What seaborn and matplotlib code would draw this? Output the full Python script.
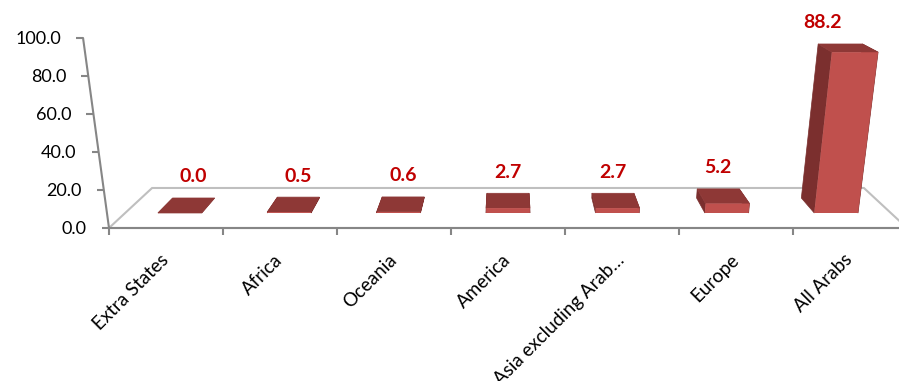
import matplotlib
matplotlib.use('Agg')
import matplotlib.pyplot as plt
import matplotlib.transforms as mtransforms
from matplotlib.patches import Polygon
import numpy as np
import pandas as pd
import seaborn as sns

regions = ['Extra States', 'Africa', 'Oceania', 'America',
           'Asia excluding Arab\u2026', 'Europe', 'All Arabs']
shares = [0.0, 0.5, 0.6, 2.7, 2.7, 5.2, 88.2]
y_ticks = [0, 20, 40, 60, 80, 100]

front_color = '#C0504D'
side_color = '#7B2F2E'
top_color = '#8E3836'
label_color = '#C00000'
axis_gray = '#868686'

sns.set_theme(style='white')
plt.rcParams['font.family'] = ['Lato', 'DejaVu Sans']

df = pd.DataFrame({'Region': regions, 'Share': shares})

fig = plt.figure(figsize=(8.99, 3.81), dpi=100)
ax = fig.add_axes([109 / 899, 153 / 381, 798 / 899, 190 / 381])

sns.barplot(data=df, x='Region', y='Share', color=front_color, saturation=1,
            width=0.4, linewidth=0, ax=ax, zorder=3)
ax.set_xlim(-0.5, 6.5)
ax.set_ylim(0, 100)

# fake 3d perspective like the excel chart
# depth: a point at depth z (0 = floor front, 1 = floor back) is pulled towards a vanishing point
# keystone: verticals spread out a little with height
k = 0.108
van_x, van_y = 3.0, 195
z_front, z_back = 0.375, 0.75
spread = 0.00065


def depth(z):
    s = 1 - k * z
    return mtransforms.Affine2D().translate(-van_x, -van_y).scale(s).translate(van_x, van_y)


class Keystone(mtransforms.Transform):
    input_dims = 2
    output_dims = 2

    def transform_non_affine(self, values):
        values = np.asarray(values, dtype=float)
        x = van_x + (values[:, 0] - van_x) * (1 + spread * values[:, 1])
        return np.column_stack([x, values[:, 1]])


keystone = Keystone()

# floor
x0, x1 = ax.get_xlim()
floor_front = np.array([[x0, 0], [x1, 0]])
floor_back = depth(1).transform(floor_front)
floor = np.vstack([floor_front, floor_back[::-1]])
ax.add_patch(Polygon(floor, closed=True, facecolor='white', edgecolor='#BFBFBF',
                     lw=1.5, zorder=1, clip_on=False))

labels = ax.bar_label(ax.containers[0], fmt='%.1f', padding=9, color=label_color,
                      fontweight='bold', fontsize=14)

for bar in ax.containers[0]:
    bx, bw, bh = bar.get_x(), bar.get_width(), bar.get_height()
    rect = keystone.transform(np.array([[bx, 0], [bx + bw, 0], [bx + bw, bh], [bx, bh]]))
    f = depth(z_front).transform(rect)
    b = depth(z_back).transform(rect)
    for face, col in [([f[0], f[3], b[3], b[0]], side_color),
                      ([f[1], f[2], b[2], b[1]], side_color),
                      ([f[3], f[2], b[2], b[3]], top_color)]:
        ax.add_patch(Polygon(face, closed=True, facecolor=col, edgecolor=col,
                             lw=0.5, zorder=2, clip_on=False))
    bar.set_transform(keystone + depth(z_front) + ax.transData)
    bar.set_clip_on(False)

for lab in labels:
    lab.xy = tuple(depth(z_back).transform(np.array([lab.xy]))[0])

ax.set_xlabel('')
ax.set_ylabel('')
ax.set_yticks(y_ticks)
ax.yaxis.set_major_formatter('{x:.1f}')
ax.set_xticks(range(len(regions)))
ax.set_xticklabels(regions, rotation=45, ha='right', va='center',
                   rotation_mode='anchor')
ax.set_xticks(np.arange(-0.5, len(regions)), minor=True)

for side in ['top', 'right', 'left']:
    ax.spines[side].set_visible(False)
ax.spines['bottom'].set_color(axis_gray)
ax.spines['bottom'].set_linewidth(1.5)

ax.tick_params(axis='y', left=True, length=5, width=1.5, color=axis_gray,
               labelsize=13, labelcolor='black', pad=11)
ax.tick_params(axis='x', which='major', bottom=False, length=0, labelsize=13.5,
               labelcolor='black', pad=21)
ax.tick_params(axis='x', which='minor', bottom=True, length=5, width=1.5,
               color=axis_gray)

# slanted value axis
ax.plot([x0, x0], [0, 100], transform=keystone + ax.transData, color=axis_gray,
        lw=1.5, clip_on=False, zorder=2.5)
for tick in ax.yaxis.get_major_ticks():
    v = tick.get_loc()
    moved = ax.transData.transform(keystone.transform(np.array([[x0, v]])))[0, 0]
    dx = moved - ax.transData.transform([[x0, v]])[0, 0]
    shift = mtransforms.Affine2D().translate(dx, 0)
    tick.label1.set_transform(tick.label1.get_transform() + shift)
    tick.tick1line.set_transform(tick.tick1line.get_transform() + shift)

fig.savefig('out.png', dpi=100)
